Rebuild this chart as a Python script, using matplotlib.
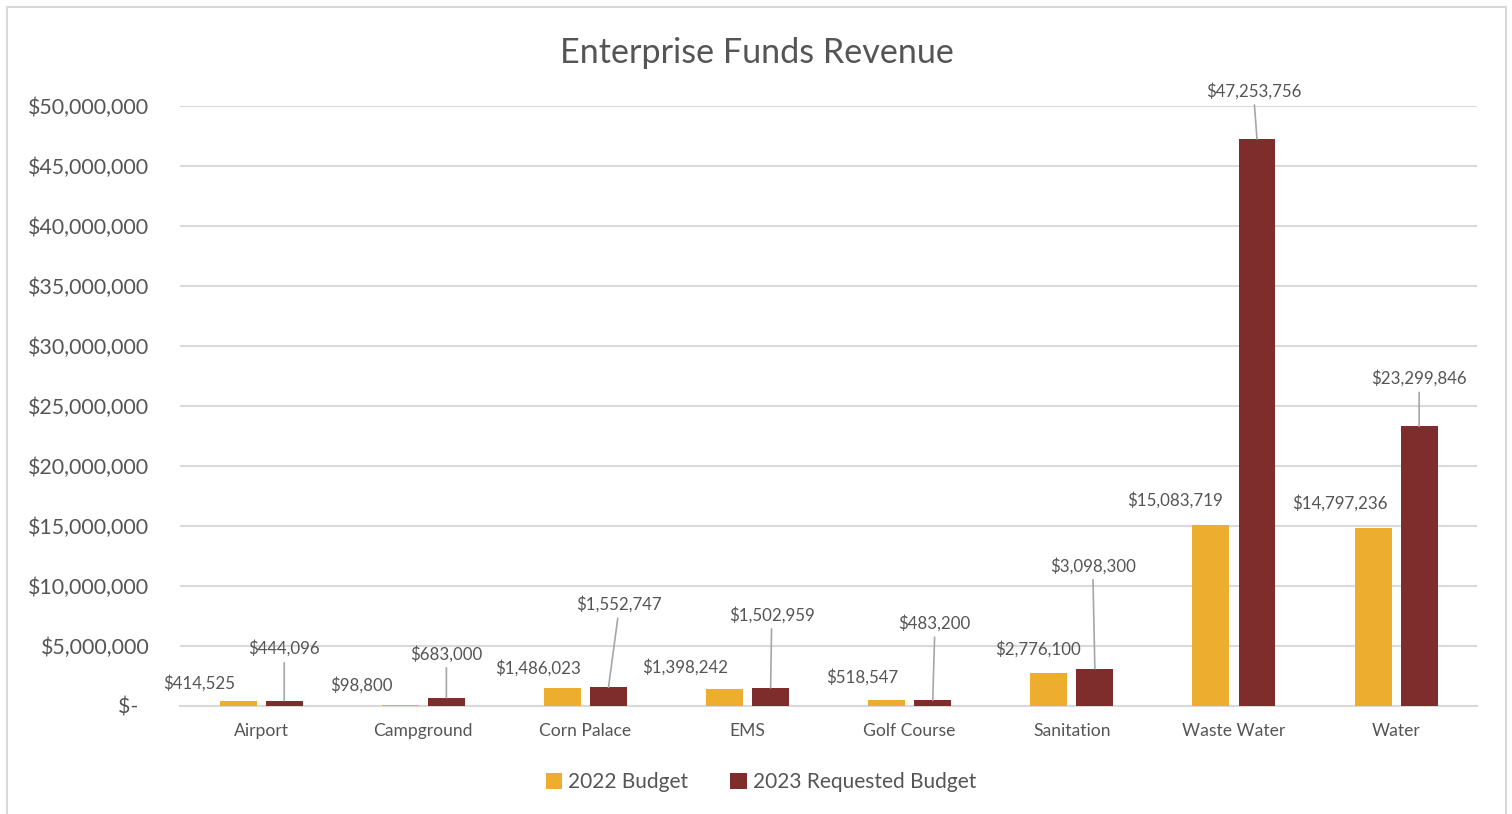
import matplotlib.pyplot as plt
import numpy as np
from matplotlib.patches import Rectangle
from matplotlib.ticker import FuncFormatter, MultipleLocator

plt.rcParams['font.family'] = ['Lato', 'DejaVu Sans']

funds = ['Airport', 'Campground', 'Corn Palace', 'EMS', 'Golf Course',
         'Sanitation', 'Waste Water', 'Water']
budget_2022 = [414525, 98800, 1486023, 1398242, 518547, 2776100, 15083719, 14797236]
requested_2023 = [444096, 683000, 1552747, 1502959, 483200, 3098300, 47253756, 23299846]

# label offsets in pixels (dx, dy) from the top of each bar
off_2022 = [(-39, 18), (-39, 20), (-24, 20), (-39, 22), (-24, 23), (-11, 23), (-36, 25), (-33, 25)]
off_2023 = [(0, 52), (0, 44), (10, 83), (1, 73), (2, 77), (-2, 103), (-3, 48), (0, 48)]

gold = '#EDAE2F'
maroon = '#7F2C2C'
txt = '#555555'
grid = '#D9D9D9'

fig = plt.figure(figsize=(15.12, 8.14), dpi=100)
fig.patches.append(Rectangle((7 / 1512, -0.1), 1499 / 1512, 1.1 - 7 / 814,
                             transform=fig.transFigure, fill=False,
                             edgecolor=grid, linewidth=1.5))
ax = fig.add_axes([180 / 1512, 108 / 814, 1297 / 1512, 600 / 814])

x = np.arange(len(funds))
w = 0.228
b1 = ax.bar(x - 0.141, budget_2022, w, color=gold, label='2022 Budget', zorder=3)
b2 = ax.bar(x + 0.143, requested_2023, w, color=maroon, label='2023 Requested Budget', zorder=3)

px = 0.72  # points per pixel at 100 dpi
for i in range(len(funds)):
    xb = x[i] - 0.141
    dx, dy = off_2022[i]
    ax.annotate(f'${budget_2022[i]:,}', (xb, budget_2022[i]),
                xytext=(dx * px, dy * px), textcoords='offset points',
                ha='center', va='center', fontsize=12.2, color=txt)
    xr = x[i] + 0.143
    dx, dy = off_2023[i]
    ax.annotate(f'${requested_2023[i]:,}', (xr, requested_2023[i]),
                xytext=(dx * px, dy * px), textcoords='offset points',
                ha='center', va='center', fontsize=12.2, color=txt,
                arrowprops=dict(arrowstyle='-', color='#A6A6A6', lw=1.2,
                                relpos=(0.5, 0), shrinkA=2, shrinkB=0))

ax.set_xlim(-0.5, len(funds) - 0.5)
ax.set_ylim(0, 50000000)
ax.yaxis.set_major_locator(MultipleLocator(5000000))
ax.yaxis.set_major_formatter(FuncFormatter(lambda v, p: '$-  ' if v == 0 else f'${v:,.0f}'))
ax.grid(axis='y', color=grid, linewidth=1.5, zorder=0)
ax.set_axisbelow(True)
for s in ['top', 'right', 'left']:
    ax.spines[s].set_visible(False)
ax.spines['bottom'].set_color(grid)
ax.spines['bottom'].set_linewidth(1.5)
ax.set_xticks(x)
ax.set_xticklabels(funds)
ax.tick_params(axis='x', length=0, pad=12.5, labelsize=12.6, labelcolor=txt)
ax.tick_params(axis='y', length=0, pad=22, labelsize=15.4, labelcolor=txt)

fig.text(757 / 1512, 1 - 53 / 814, 'Enterprise Funds Revenue', ha='center', va='center',
         fontsize=24.6, color=txt)
fig.legend(handles=[b1, b2], loc='center', bbox_to_anchor=(761 / 1512, 1 - 782 / 814),
           ncol=2, frameon=False, fontsize=15, labelcolor=txt, handlelength=0.8,
           handleheight=0.8, handletextpad=0.3, columnspacing=2.0)

fig.savefig('out.png', dpi=100)
